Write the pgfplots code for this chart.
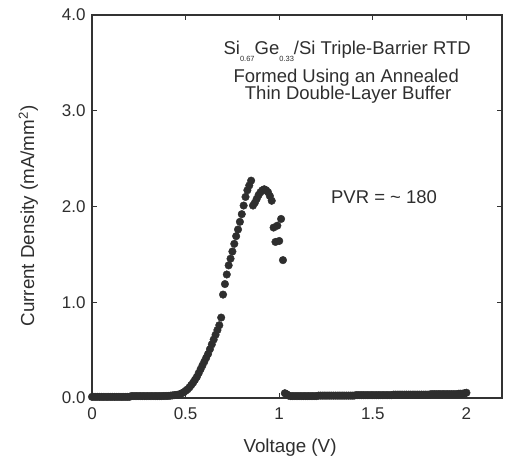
\documentclass[border=0pt]{standalone}
\usepackage{fontspec}
\setmainfont{Liberation Sans}
\usepackage{pgfplots}
\pgfplotsset{compat=1.18}

\definecolor{ink}{HTML}{2E2E2E}
\definecolor{frame}{HTML}{333333}

\begin{document}
\begin{tikzpicture}
\useasboundingbox (-92pt,-62pt) rectangle (413pt,398pt);
\begin{axis}[
    scale only axis,
    width=410pt,
    height=383pt,
    xmin=0, xmax=2.19,
    ymin=0, ymax=4,
    xtick={0,0.5,1,1.5,2},
    ytick={0,1,2,3,4},
    xticklabels={0,0.5,1,1.5,2},
    yticklabel style={xshift=-3pt, /pgf/number format/fixed,
        /pgf/number format/fixed zerofill, /pgf/number format/precision=1},
    xticklabel style={yshift=-6pt},
    /pgf/number format/assume math mode=true,
    tick align=inside,
    major tick length=5pt,
    tick style={frame, line width=0.9pt},
    axis line style={frame, line width=1.3pt},
    tick label style={font=\fontsize{17}{19}\selectfont, text=ink},
    label style={font=\fontsize{18.8}{21}\selectfont, text=ink},
    xlabel={Voltage (V)},
    ylabel={Current Density (mA/mm\textsuperscript{2})},
    xlabel style={at={(axis description cs:0.483,-0.13)}, anchor=center},
    ylabel style={at={(axis description cs:-0.155,0.475)}, anchor=center},
    clip=false,
]

\addplot[only marks, mark=*, mark size=3.8pt, color=ink] coordinates {
(0.00,0.012)(0.01,0.012)(0.02,0.012)(0.03,0.012)(0.04,0.012)(0.05,0.012)(0.06,0.012)
(0.07,0.012)(0.08,0.012)(0.09,0.012)(0.10,0.012)(0.11,0.012)(0.12,0.012)(0.13,0.012)
(0.14,0.012)(0.15,0.012)(0.16,0.012)(0.17,0.012)(0.18,0.012)(0.19,0.012)(0.20,0.012)
(0.21,0.02)(0.22,0.02)(0.23,0.02)(0.24,0.02)(0.25,0.02)(0.26,0.02)(0.27,0.02)
(0.28,0.02)(0.29,0.02)(0.30,0.02)(0.31,0.02)(0.32,0.02)(0.33,0.02)(0.34,0.02)
(0.35,0.02)(0.36,0.02)(0.37,0.02)(0.38,0.021)(0.39,0.021)(0.40,0.022)
(0.41,0.022)(0.42,0.025)(0.43,0.027)(0.44,0.03)(0.45,0.032)(0.46,0.035)(0.47,0.04)
(0.48,0.05)(0.49,0.06)(0.50,0.075)(0.51,0.09)(0.52,0.11)(0.53,0.135)(0.54,0.16)
(0.55,0.19)(0.56,0.22)(0.57,0.26)(0.58,0.30)(0.59,0.34)(0.60,0.38)(0.61,0.42)
(0.62,0.46)(0.63,0.51)(0.64,0.56)(0.65,0.61)(0.66,0.66)(0.67,0.71)(0.68,0.76)
(0.69,0.84)
(0.70,1.08)(0.71,1.19)(0.72,1.29)(0.73,1.385)(0.74,1.455)(0.75,1.53)(0.76,1.61)
(0.77,1.69)(0.78,1.76)(0.79,1.84)(0.80,1.92)(0.81,2.01)(0.82,2.10)(0.83,2.17)
(0.84,2.22)(0.85,2.27)
(0.86,2.01)(0.87,2.04)(0.88,2.08)(0.89,2.12)(0.90,2.15)(0.91,2.17)(0.92,2.18)
(0.93,2.17)(0.94,2.15)(0.95,2.11)(0.96,2.06)
(0.97,1.78)(0.98,1.63)(0.99,1.80)(1.00,1.64)(1.01,1.87)(1.02,1.44)
(1.03,0.05)(1.04,0.04)(1.05,0.025)(1.06,0.02)(1.07,0.02)(1.08,0.02)(1.09,0.02)
(1.10,0.02)(1.11,0.02)(1.12,0.02)(1.13,0.02)(1.14,0.02)(1.15,0.02)(1.16,0.02)
(1.17,0.02)(1.18,0.02)(1.19,0.02)(1.20,0.02)(1.21,0.025)(1.22,0.025)(1.23,0.025)
(1.24,0.025)(1.25,0.025)(1.26,0.025)(1.27,0.025)(1.28,0.025)(1.29,0.025)(1.30,0.025)
(1.31,0.025)(1.32,0.025)(1.33,0.025)(1.34,0.025)(1.35,0.025)(1.36,0.025)(1.37,0.025)
(1.38,0.025)(1.39,0.025)(1.40,0.025)(1.41,0.03)(1.42,0.03)(1.43,0.03)(1.44,0.03)
(1.45,0.03)(1.46,0.03)(1.47,0.03)(1.48,0.03)(1.49,0.03)(1.50,0.03)(1.51,0.03)
(1.52,0.03)(1.53,0.03)(1.54,0.03)(1.55,0.03)(1.56,0.03)(1.57,0.03)(1.58,0.03)
(1.59,0.03)(1.60,0.03)(1.61,0.035)(1.62,0.035)(1.63,0.035)(1.64,0.035)(1.65,0.035)
(1.66,0.035)(1.67,0.035)(1.68,0.035)(1.69,0.035)(1.70,0.035)(1.71,0.035)(1.72,0.035)
(1.73,0.035)(1.74,0.035)(1.75,0.035)(1.76,0.035)(1.77,0.035)(1.78,0.035)(1.79,0.035)
(1.80,0.035)(1.81,0.04)(1.82,0.04)(1.83,0.04)(1.84,0.04)(1.85,0.04)(1.86,0.04)
(1.87,0.04)(1.88,0.04)(1.89,0.04)(1.90,0.04)(1.91,0.04)(1.92,0.04)(1.93,0.04)
(1.94,0.04)(1.95,0.04)(1.96,0.045)(1.97,0.045)(1.98,0.045)(1.99,0.05)(2.00,0.055)
};

% annotations
\node[anchor=base, text=ink, font=\fontsize{18.5}{18.5}\selectfont]
    at (axis cs:1.363,3.59) {Si\raisebox{-0.4em}{\fontsize{7.5}{7.5}\selectfont 0.67}Ge\raisebox{-0.4em}{\fontsize{7.5}{7.5}\selectfont 0.33}/Si Triple-Barrier RTD};
\node[anchor=base, text=ink, font=\fontsize{18.5}{18.5}\selectfont]
    at (axis cs:1.358,3.295) {Formed Using an Annealed};
\node[anchor=base, text=ink, font=\fontsize{18.5}{18.5}\selectfont]
    at (axis cs:1.368,3.12) {Thin Double-Layer Buffer};
\node[anchor=base, text=ink, font=\fontsize{18.5}{18.5}\selectfont]
    at (axis cs:1.56,2.03) {PVR = \textasciitilde\ 180};

\end{axis}
\end{tikzpicture}
\end{document}
